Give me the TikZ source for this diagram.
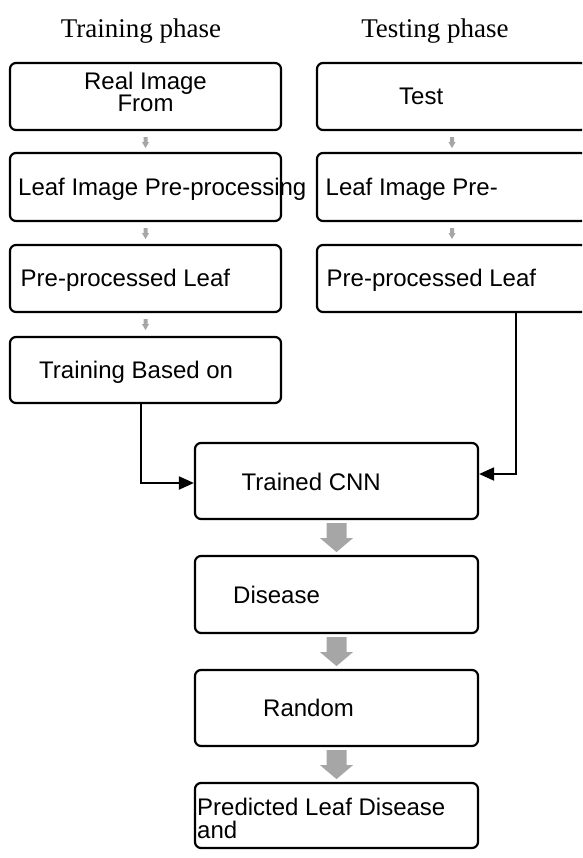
\documentclass[tikz,border=0pt]{standalone}
\usepackage{fontspec}
\setmainfont{Liberation Sans}
\newfontfamily\phasefont{Liberation Serif}
\usetikzlibrary{arrows.meta}
\usetikzlibrary{calc}

\begin{document}
\begin{tikzpicture}[x=1pt,y=-1pt,
    stagebox/.style={draw,line width=2.2pt,rounded corners=6pt,inner sep=0pt},
    boxtext/.style={anchor=base west,inner sep=0pt,font=\fontsize{24}{21}\selectfont},
    phasetext/.style={anchor=base,inner sep=0pt,font=\phasefont\fontsize{27}{30}\selectfont},
    link/.style={line width=2pt,-{Triangle[length=15pt,width=13pt]}},
    smallgrey/.style={fill=black!35},
    blockgrey/.style={fill=black!35}]
        \useasboundingbox (0,0) rectangle (582,858);
        \clip (0,0) rectangle (582,858);
        \newcommand{\flowtrainx}{145.5}
        \newcommand{\flowtestx}{452}
        \newcommand{\flowmidx}{336.5}
        \newcommand{\flowsidewidth}{271}
        \newcommand{\flowmidwidth}{283}
        % phase headings
        \node[phasetext] (trainhead) at (141,38) {Training phase};
        \node[phasetext] (testhead) at (435,38) {Testing phase};
        % training column
        \node[stagebox,minimum width=\flowsidewidth,minimum height=67] (tra) at (\flowtrainx,96.5) {};
        \node[stagebox,minimum width=\flowsidewidth,minimum height=68] (trb) at (\flowtrainx,187) {};
        \node[stagebox,minimum width=\flowsidewidth,minimum height=67] (trc) at (\flowtrainx,278.5) {};
        \node[stagebox,minimum width=\flowsidewidth,minimum height=66] (trd) at (\flowtrainx,370) {};
        \node[boxtext,anchor=north,align=center] (tratext) at (\flowtrainx,71.5) {Real Image\\From};
        \node[boxtext] (trbtext) at (18,196) {Leaf Image Pre-processing};
        \node[boxtext] (trctext) at (20.5,287) {Pre-processed Leaf};
        \node[boxtext] (trdtext) at (39,378) {Training Based on};
        % testing column
        \node[stagebox,minimum width=270,minimum height=67] (tsa) at (\flowtestx,96.5) {};
        \node[stagebox,minimum width=270,minimum height=68] (tsb) at (\flowtestx,187) {};
        \node[stagebox,minimum width=270,minimum height=67] (tsc) at (\flowtestx,278.5) {};
        \node[boxtext] (tsatext) at (399,105) {Test};
        \node[boxtext] (tsbtext) at (325.5,196) {Leaf Image Pre-};
        \node[boxtext] (tsctext) at (326.5,287) {Pre-processed Leaf};
        % shared column
        \node[stagebox,minimum width=\flowmidwidth,minimum height=76] (cnn) at (\flowmidx,481) {};
        \node[stagebox,minimum width=\flowmidwidth,minimum height=77] (dis) at (\flowmidx,594.5) {};
        \node[stagebox,minimum width=\flowmidwidth,minimum height=76] (rnd) at (\flowmidx,708) {};
        \node[stagebox,minimum width=\flowmidwidth,minimum height=65] (prd) at (\flowmidx,815.5) {};
        \node[boxtext] (cnntext) at (241.5,490) {Trained CNN};
        \node[boxtext] (distext) at (233,603) {Disease};
        \node[boxtext] (rndtext) at (263,716.5) {Random};
        \node[boxtext,anchor=north west,align=left,font=\fontsize{24}{23}\selectfont] (prdtext) at (197,797.5) {Predicted Leaf Disease\\and};
        % small grey arrows between column boxes
        \foreach \stagename in {tra,trb,trc,tsa,tsb}
            \fill[smallgrey] ([shift={(-2,6)}]\stagename.south) -- ++(4,0) -- ++(0,5) -- ++(1.5,0)
                -- ++(-3.5,6) -- ++(-3.5,-6) -- ++(1.5,0) -- cycle;
        % block arrows in the shared column
        \foreach \stagename in {cnn,dis,rnd}
            \fill[blockgrey] ([shift={(-10,3)}]\stagename.south) -- ++(20,0) -- ++(0,15) -- ++(6.5,0)
                -- ++(-16.5,14) -- ++(-16.5,-14) -- ++(6.5,0) -- cycle;
        % links into the CNN
        \draw[link] ([xshift=-4.5pt]trd.south) |- ([yshift=-2pt]cnn.west);
        \draw[link] ([xshift=63.7pt]tsc.south) |- ([yshift=7pt]cnn.east);
\end{tikzpicture}
\end{document}
